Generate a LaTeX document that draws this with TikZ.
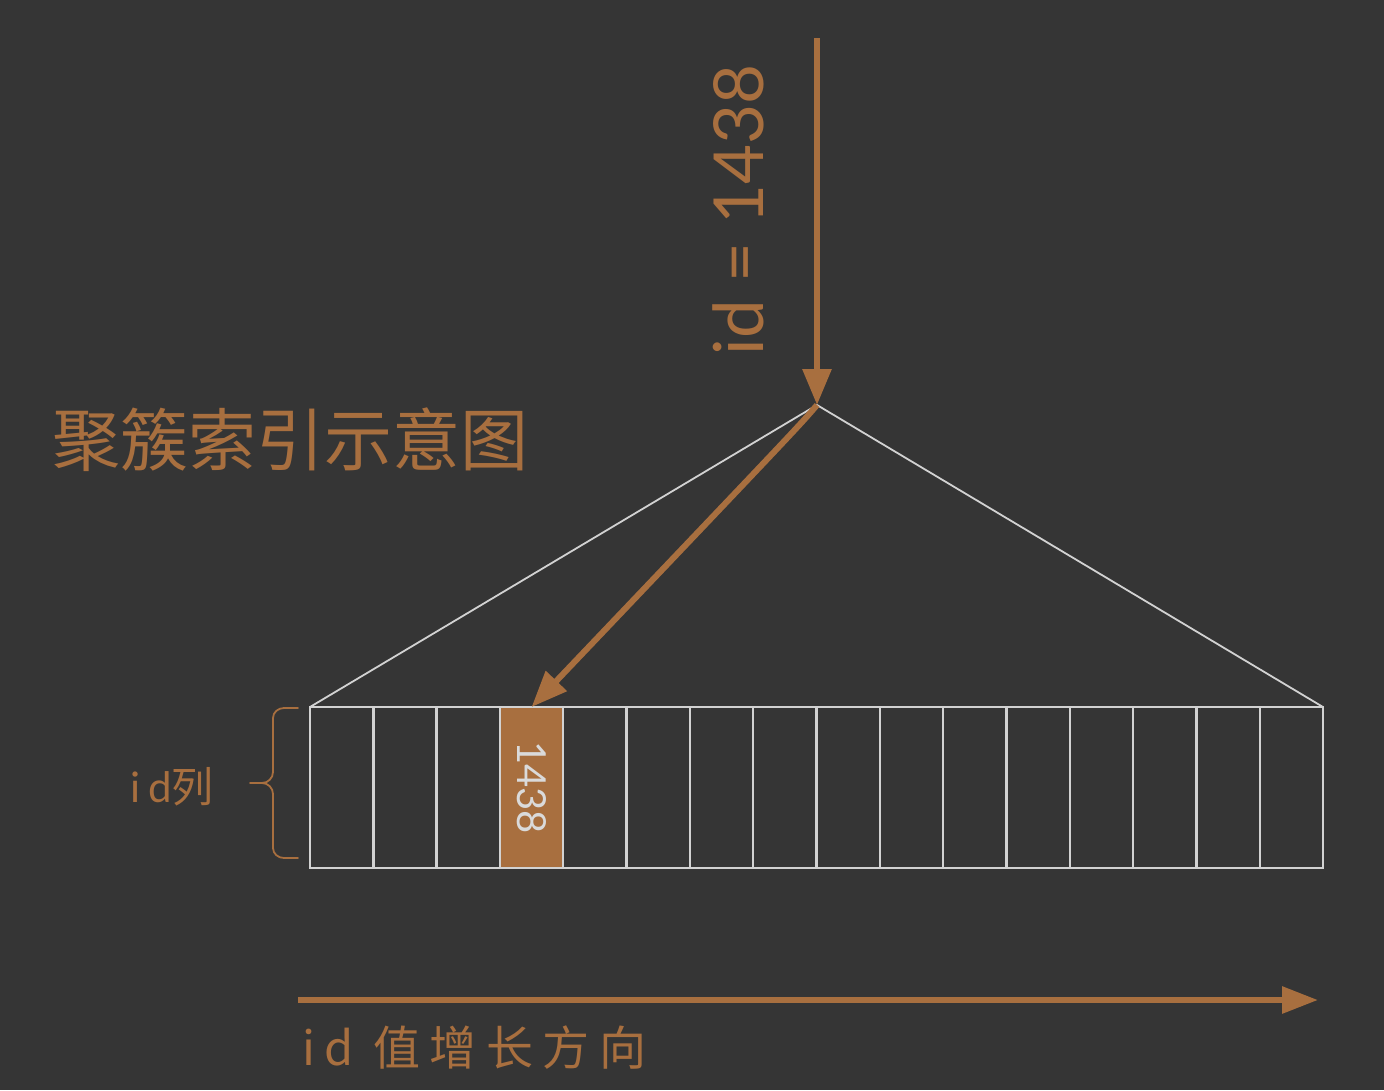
\documentclass[tikz,border=0pt]{standalone}
\usepackage{fontspec}
\setmainfont{Noto Sans CJK SC}
\newfontfamily\latfont{Lato}
\usetikzlibrary{arrows.meta,decorations.pathreplacing}
\definecolor{bg}{HTML}{353535}
\definecolor{ora}{HTML}{A86F3F}
\definecolor{gridc}{HTML}{D2D2D2}
\definecolor{numc}{HTML}{DADADA}
\begin{document}
\begin{tikzpicture}[x=1pt,y=-1pt,
  cell/.style={draw=gridc,line width=2.4pt,minimum width=63.31pt,minimum height=161pt,inner sep=0pt,outer sep=0pt},
  hot/.style={cell,fill=ora},
  tri/.style={draw=gridc,line width=1.8pt},
  arr/.style={draw=ora,line width=6pt,-{Triangle[length=36pt,width=28pt]}},
  lbl/.style={text=ora,inner sep=0pt}]
\fill[bg] (0,0) rectangle (1384,1090);
\useasboundingbox (0,0) rectangle (1384,1090);
% apex and top
\coordinate (apex) at (817,405);
\coordinate (top) at (817,38);
% cells
\foreach \i in {0,...,15}{
  \ifnum\i=3
    \node[hot] (c\i) at ({310+63.3125*(\i+0.5)},787.5) {};
  \else
    \node[cell] (c\i) at ({310+63.3125*(\i+0.5)},787.5) {};
  \fi
}
\node[text=numc,rotate=-90,inner sep=0pt,font=\latfont\fontsize{40}{40}\selectfont] (num) at (c3.center) {1438};
% triangle
\draw[tri] (c0.north west) -- (apex) -- (c15.north east);
% arrows
\draw[arr] (top) -- (apex);
\draw[arr] (apex) .. controls (800,425) .. (c3.north);
% label on top arrow
\node[lbl,rotate=90,font=\latfont\fontsize{69}{69}\selectfont] (idlab) at (738,210) {id = 1438};
% title
\node[lbl,anchor=west,font=\fontsize{68}{68}\selectfont] (title) at (52,440) {聚簇索引示意图};
% brace
\coordinate (bt) at (298,708);
\coordinate (bb) at (298,858);
\draw[ora,line width=1.8pt,line cap=round]
  (bt) -- (284,708) to[out=180,in=90] (273,718) -- (273,772)
  to[out=-90,in=0] (262,783) -- (250,783)
  (262,783) to[out=0,in=90] (273,794) -- (273,848)
  to[out=-90,in=180] (284,858) -- (bb);
\node[lbl,anchor=east,font=\fontsize{42}{42}\selectfont] (col) at (214,787) {{\latfont\addfontfeatures{LetterSpace=18}id}列};
% bottom arrow
\coordinate (ba) at (298,1000);
\coordinate (bz) at (1318,1000);
\draw[arr,-{Triangle[length=36pt,width=26pt]}] (ba) -- (bz);
\node[lbl,anchor=west,font=\fontsize{47}{47}\selectfont] (dir) at (302,1048) {\addfontfeatures{LetterSpace=20}id 值增长方向};
\end{tikzpicture}
\end{document}
